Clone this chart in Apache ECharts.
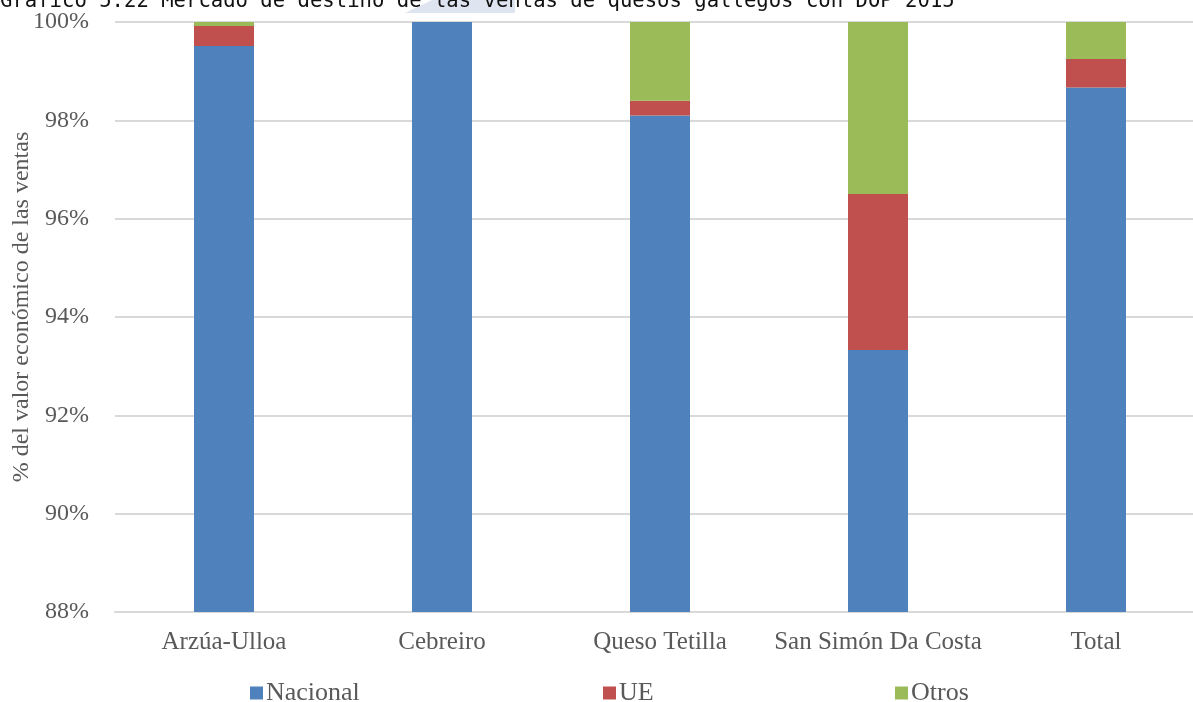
<!DOCTYPE html>
<html>
<head>
<meta charset="utf-8">
<script src="https://cdn.jsdelivr.net/npm/echarts@6/dist/echarts.min.js"></script>
<style>
  html, body { margin: 0; padding: 0; background: #ffffff; }
  #chart { width: 1193px; height: 702px; }
</style>
</head>
<body>
<div id="chart"></div>
<script>
// Destination market of Galician PDO cheese sales (% of sales value)
const titleText = 'Gráfico 5.22 Mercado de destino de las ventas de quesos gallegos con DOP 2015';
const categories = ['Arzúa-Ulloa', 'Cebreiro', 'Queso Tetilla', 'San Simón Da Costa', 'Total'];
const nacional = [99.51, 100.00, 98.10, 93.33, 98.67];
const ue       = [0.41, 0.00, 0.30, 3.17, 0.58];
const otros    = [0.08, 0.00, 1.60, 3.50, 0.75];
const yTicks = { min: 88, max: 100, interval: 2 };

const serif = '"Liberation Serif", "Times New Roman", serif';
const textGray = '#595959';
const gridGray = '#d9d9d9';

const chart = echarts.init(document.getElementById('chart'), null, { renderer: 'canvas' });

function legendAt(name, left) {
  return {
    data: [name],
    left: left,
    top: 675,
    icon: 'rect',
    itemWidth: 13,
    itemHeight: 13,
    textStyle: { fontFamily: serif, fontSize: 26, color: textGray, padding: [0, 0, 0, -2] },
    selectedMode: false
  };
}

function barSeries(name, values, color) {
  return {
    name: name,
    type: 'bar',
    stack: 'mercado',
    data: values,
    barWidth: 60,
    itemStyle: { color: color },
    emphasis: { disabled: true }
  };
}

chart.setOption({
  animation: false,
  backgroundColor: '#ffffff',
  graphic: [
    {
      type: 'polygon',
      silent: true,
      shape: { points: [[405, 13], [432, 0], [515, 0], [515, 13]] },
      style: { fill: '#dfe4f1' }
    },
    {
      type: 'text',
      left: 0,
      top: -9,
      silent: true,
      style: {
        text: titleText,
        font: '20.6px "DejaVu Sans Mono", monospace',
        fill: '#111111'
      }
    }
  ],
  legend: [
    legendAt('Nacional', 245),
    legendAt('UE', 598),
    legendAt('Otros', 890)
  ],
  grid: { left: 115, top: 22, width: 1090, height: 590, containLabel: false, outerBoundsMode: 'none' },
  xAxis: {
    type: 'category',
    data: categories,
    axisTick: { show: false },
    axisLine: { lineStyle: { color: gridGray, width: 2 } },
    axisLabel: { fontFamily: serif, fontSize: 25, color: textGray, margin: 18, interval: 0 }
  },
  yAxis: {
    type: 'value',
    min: yTicks.min,
    max: yTicks.max,
    interval: yTicks.interval,
    name: '% del valor económico de las ventas',
    nameLocation: 'middle',
    nameRotate: 90,
    nameGap: 81,
    nameMoveOverlap: false,
    nameTextStyle: { fontFamily: serif, fontSize: 24, color: textGray, padding: [0, 0, 0, 20] },
    axisLine: { show: false },
    axisTick: { show: false },
    splitLine: { lineStyle: { color: gridGray, width: 2 } },
    axisLabel: { fontFamily: serif, fontSize: 24, color: textGray, margin: 26, formatter: '{value}%' }
  },
  series: [
    barSeries('Nacional', nacional, '#4f81bd'),
    barSeries('UE', ue, '#c0504d'),
    barSeries('Otros', otros, '#9bbb59')
  ]
});
</script>
</body>
</html>
